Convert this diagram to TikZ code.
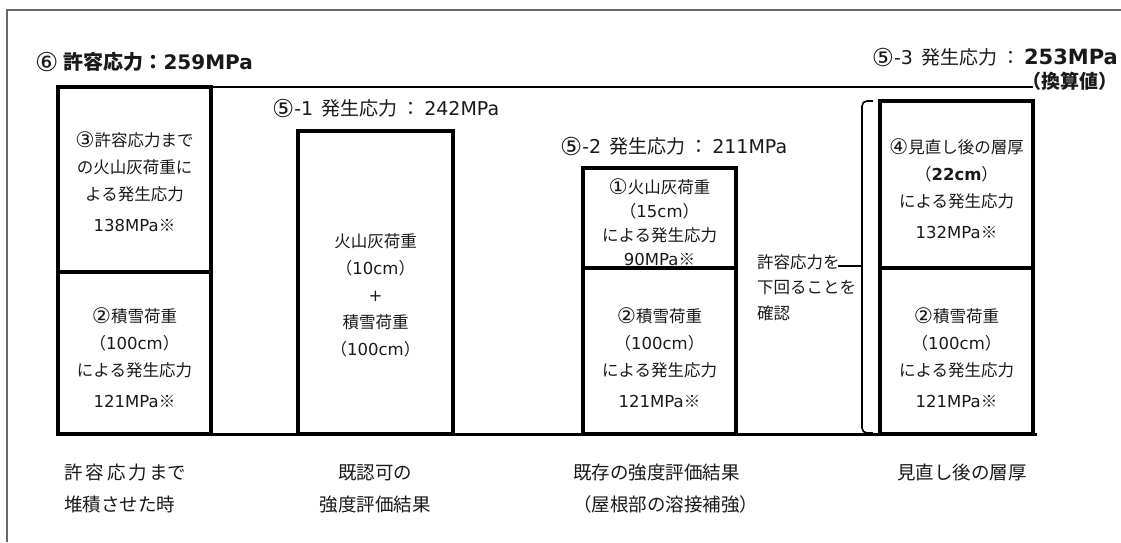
\documentclass[tikz,border=0pt]{standalone}
\usepackage{fontspec}
\setmainfont{Noto Sans CJK JP}
\newfontfamily\latf{DejaVu Sans}
\newfontfamily\circf[Scale=1.3]{DejaVu Sans}
\newcommand\lt[1]{{\latf #1}}
\newcommand\cn[1]{{\circf\raisebox{-0.06em}{#1}}}
\begin{document}
\begin{tikzpicture}[x=1pt,y=-1pt,
  box/.style={draw=black, line width=3.2pt, inner sep=0pt},
  txt/.style={align=center, inner sep=0pt, text=black!90, font=\fontsize{16.5}{27}\selectfont},
  lbl/.style={inner sep=0pt, text=black!90, font=\fontsize{19}{22}\selectfont},
  capt/.style={inner sep=0pt, text=black!90, font=\fontsize{18.5}{32}\selectfont},
  frame/.style={draw=black!60, line width=1.6pt},
  baseline/.style={draw=black, line width=3pt},
  brk/.style={draw=black, line width=1.6pt}]
\useasboundingbox (0,0) rectangle (1121,542);
% outer frame
\coordinate (ftr) at (1121,10);
\coordinate (ftl) at (7,10);
\coordinate (fbl) at (7,542);
\draw[frame] (ftr) -- (ftl) -- (fbl);

% top and base lines
\coordinate (tl) at (58,87);
\coordinate (tr) at (1033,87);
\coordinate (bl) at (57,434);
\coordinate (br) at (1037,434);
\draw[draw=black, line width=2.2pt] (tl) -- (tr);
\draw[baseline] (bl) -- (br);

% boxes
\node[box, minimum width=153pt, minimum height=185pt] (a1) at (134.5,179.5) {};
\node[box, minimum width=153pt, minimum height=162pt] (a2) at (134.5,353) {};
\node[box, minimum width=155pt, minimum height=303pt] (b) at (375.5,282.5) {};
\node[box, minimum width=153pt, minimum height=100pt] (c1) at (659.5,218) {};
\node[box, minimum width=153pt, minimum height=166pt] (c2) at (659.5,351) {};
\node[box, minimum width=153pt, minimum height=167pt] (d1) at (956.5,184.5) {};
\node[box, minimum width=153pt, minimum height=166pt] (d2) at (956.5,351) {};

% box texts
\node[txt] (ta1) at (134.5,182) {\cn{③}許容応力まで\\の火山灰荷重に\\よる発生応力\\[4pt]\lt{138MPa}※};
\node[txt] (ta2) at (134.5,358) {\cn{②}積雪荷重\\（\lt{100cm}）\\による発生応力\\[4pt]\lt{121MPa}※};
\node[txt] (tb) at (375.5,295.5) {火山灰荷重\\（\lt{10cm}）\\\lt{+}\\積雪荷重\\（\lt{100cm}）};
\node[txt, font=\fontsize{16.5}{24}\selectfont] (tc1) at (659.5,222.5) {\cn{①}火山灰荷重\\（\lt{15cm}）\\による発生応力\\\lt{90MPa}※};
\node[txt] (tc2) at (659.5,358) {\cn{②}積雪荷重\\（\lt{100cm}）\\による発生応力\\[4pt]\lt{121MPa}※};
\node[txt] (td1) at (956.5,188.5) {\cn{④}見直し後の層厚\\（\textbf{\lt{22cm}}）\\による発生応力\\[4pt]\lt{132MPa}※};
\node[txt] (td2) at (956.5,358) {\cn{②}積雪荷重\\（\lt{100cm}）\\による発生応力\\[4pt]\lt{121MPa}※};

% top labels
\node[lbl, anchor=west, font=\fontsize{20}{24}\selectfont] (l6) at (35,62) {\cn{⑥}\hspace{5pt}\textbf{許容応力：\lt{259MPa}}};
\node[lbl, anchor=west] (l51) at (272,108) {\cn{⑤}\lt{-1}\hspace{8pt}発生応力\hspace{4pt}：\hspace{4pt}\lt{242MPa}};
\node[lbl, anchor=west] (l52) at (560,146) {\cn{⑤}\lt{-2}\hspace{8pt}発生応力\hspace{4pt}：\hspace{4pt}\lt{211MPa}};
\node[lbl, anchor=east] (l53) at (1118,57) {\cn{⑤}\lt{-3}\hspace{8pt}発生応力\hspace{4pt}：\hspace{4pt}{\fontsize{21}{24}\selectfont\textbf{\lt{253MPa}}}};
\node[lbl, anchor=east] (l53b) at (1118,81) {\textbf{（換算値）}};

% bracket
\coordinate (bk1) at (873,101);
\coordinate (bk2) at (862,101);
\coordinate (bk3) at (862,433);
\coordinate (bk4) at (873,433);
\draw[brk, rounded corners=5pt] (bk1) -- (bk2) -- (bk3) -- (bk4);
\coordinate (bkm) at (862,266);
\coordinate (bkt) at (838,266);
\node[txt, align=left, anchor=north west, font=\fontsize{16.5}{25.5}\selectfont] (tbk) at (757,254) {許容応力を\\下回ることを\\確認};
\draw[brk] (bkm) -- (bkt);

% captions
\node[capt, align=left, anchor=north west] (ca) at (64,464) {許\hspace{3pt}容\hspace{3pt}応\hspace{3pt}力\hspace{2pt}まで\\堆積させた時};
\node[capt, align=center, anchor=north] (cb) at (375,464) {既認可の\\強度評価結果};
\node[capt, align=left, anchor=north west] (cc) at (573,464) {既存の強度評価結果\\（屋根部の溶接補強）};
\node[capt, align=center, anchor=north] (cd) at (962,464) {見直し後の層厚};
\end{tikzpicture}
\end{document}
